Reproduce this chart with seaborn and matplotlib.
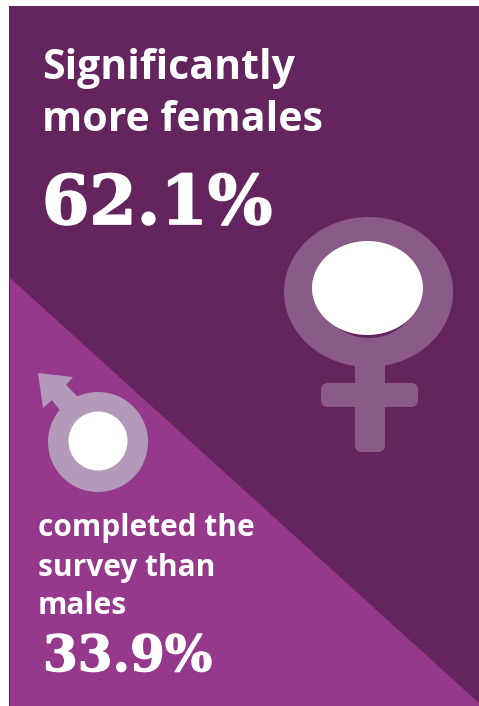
import matplotlib.pyplot as plt
import matplotlib.patheffects as pe
from matplotlib.patches import Circle, Ellipse, FancyBboxPatch, Polygon, Rectangle
import seaborn as sns

HEADLINE_LINES = ["Significantly", "more females"]
FOOTER_LINES = ["completed the", "survey than", "males"]
FEMALE_SHARE = 62.1
MALE_SHARE = 33.9

DARK = "#64245e"
LIGHT = "#96388c"
VENUS = "#8a5a88"
MARS = "#b39abb"

sns.set_theme(style="white")

W, H = 479, 706
fig = plt.figure(figsize=(W / 100, H / 100), dpi=100, facecolor="white")
ax = fig.add_axes([0, 0, 1, 1])
ax.set_xlim(0, W)
ax.set_ylim(H, 0)
ax.axis("off")

# Background panel and the lighter triangle
ax.add_patch(Rectangle((9, 6), 470, 700, fc=DARK, ec="none"))
ax.add_patch(Polygon([(9, 277), (479, 703), (479, 706), (9, 706)], fc=LIGHT, ec="none"))
ax.plot([9.3, 9.3], [277, 706], color=DARK, lw=0.8)


# Venus symbol
def rounded(x0, y0, x1, y1, color, r=7):
    ax.add_patch(
        FancyBboxPatch(
            (x0 + r, y0 + r),
            x1 - x0 - 2 * r,
            y1 - y0 - 2 * r,
            boxstyle=f"round,pad={r},rounding_size={r}",
            fc=color,
            ec="none",
        )
    )


rounded(355, 340, 385, 452, VENUS)
rounded(321, 383, 418, 407, VENUS)
ax.add_patch(Ellipse((368.5, 292), 169, 150, fc=VENUS, ec="none"))
ax.add_patch(Ellipse((369, 291), 100, 94, fc=DARK, ec="none"))
ax.add_patch(Ellipse((367.5, 288), 111, 94, fc="white", ec="none"))

# Mars symbol
ax.add_patch(
    Polygon(
        [(38, 373), (73, 377), (66, 385), (80, 399), (62, 413), (52, 400), (43, 408)],
        fc=MARS,
        ec="none",
    )
)
ax.add_patch(Circle((98, 442), 50, fc=MARS, ec="none"))
ax.add_patch(Circle((98, 441), 29.5, fc="white", ec="none"))


def sans(x, y, s, size):
    ax.text(x, y, s, color="white", fontsize=size, fontweight="bold",
            family="Open Sans", va="baseline", ha="left")


def serif(x, y, s, size, stroke):
    ax.text(x, y, s, color="white", fontsize=size, fontweight="bold",
            family="DejaVu Serif", va="baseline", ha="left",
            path_effects=[pe.withStroke(linewidth=stroke, foreground="white")])


for y, line in zip([79, 131], HEADLINE_LINES):
    sans(42, y, line, 29.5)
for y, line in zip([536, 576, 614], FOOTER_LINES):
    sans(38, y, line, 21.5)

serif(42, 224, f"{FEMALE_SHARE}%", 49, 1.2)
serif(43, 671, f"{MALE_SHARE}%", 36, 0.9)

fig.savefig("out.png", dpi=100)
